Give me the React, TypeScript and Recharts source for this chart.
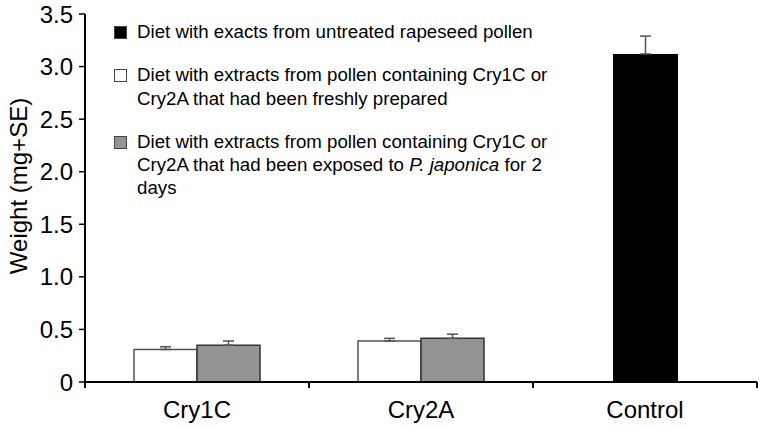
import React from "react";
import { BarChart, Bar, XAxis, YAxis, ErrorBar, Legend } from "recharts";

const categories = ["Cry1C", "Cry2A", "Control"];
const freshWeight = [0.31, 0.39, null];
const freshSE = [0.025, 0.025, null];
const exposedWeight = [0.35, 0.415, null];
const exposedSE = [0.04, 0.04, null];
const untreatedWeight = [null, null, 3.12];
const untreatedSE = [null, null, 0.17];
const yTicks = [0, 0.5, 1, 1.5, 2, 2.5, 3, 3.5];

const data = categories.map((name, i) => ({
  name,
  fresh: freshWeight[i],
  freshErr: freshSE[i] == null ? null : [0, freshSE[i]],
  exposed: exposedWeight[i],
  exposedErr: exposedSE[i] == null ? null : [0, exposedSE[i]],
  untreated: untreatedWeight[i],
  untreatedErr: untreatedSE[i] == null ? null : [0, untreatedSE[i]],
}));

const font = "'Liberation Sans', Arial, sans-serif";

const legendItems = [
  { fill: "#000000", lines: [<>Diet with exacts from untreated rapeseed pollen</>] },
  {
    fill: "#ffffff",
    lines: [
      <>Diet with extracts from pollen containing Cry1C or</>,
      <>Cry2A that had been freshly prepared</>,
    ],
  },
  {
    fill: "#939393",
    lines: [
      <>Diet with extracts from pollen containing Cry1C or</>,
      <>
        Cry2A that had been exposed to <i>P. japonica</i> for 2
      </>,
      <>days</>,
    ],
  },
];

function renderLegend() {
  return (
    <div style={{ fontFamily: font, fontSize: 18.7, color: "#000" }}>
      {legendItems.map((item, i) => (
        <div key={i} style={{ position: "relative", paddingLeft: 24, marginBottom: 20, lineHeight: "23.3px" }}>
          <span
            style={{
              position: "absolute",
              left: 1,
              top: 6,
              width: 11,
              height: 11,
              background: item.fill,
              border: "1px solid #444",
            }}
          />
          {item.lines.map((l, j) => (
            <div key={j} style={{ whiteSpace: "nowrap" }}>{l}</div>
          ))}
        </div>
      ))}
    </div>
  );
}

// category label plus tick marks on the band edges
function CategoryTick(props: any) {
  const { x, y, payload } = props;
  const half = payload?.offset ?? 0;
  return (
    <g>
      <line x1={x - half} x2={x - half} y1={y} y2={y + 6} stroke="#000" strokeWidth={2} />
      <line x1={x + half} x2={x + half} y1={y} y2={y + 6} stroke="#000" strokeWidth={2} />
      <text x={x} y={y + 36} textAnchor="middle" fill="#000" fontSize={24} fontFamily={font}>
        {payload.value}
      </text>
    </g>
  );
}

export default function App() {
  return (
    <div style={{ position: "absolute", left: 0, top: 0, background: "#fff" }}>
      <BarChart
        width={762}
        height={426}
        data={data}
        margin={{ top: 14, right: 5, bottom: 0, left: 0 }}
        barGap={0}
      >
        <XAxis
          xAxisId="a"
          dataKey="name"
          height={44}
          axisLine={{ stroke: "#000", strokeWidth: 2 }}
          tickLine={false}
          tickSize={0}
          tickMargin={0}
          tick={<CategoryTick />}
        />
        <XAxis xAxisId="b" dataKey="name" hide />
        <YAxis
          domain={[0, 3.5]}
          ticks={yTicks}
          width={85}
          axisLine={{ stroke: "#000", strokeWidth: 2 }}
          tickLine={{ stroke: "#000", strokeWidth: 1.5 }}
          tickSize={6}
          tickMargin={6}
          tickFormatter={(v) => (v === 0 ? "0" : v.toFixed(1))}
          tick={{ fill: "#000", fontSize: 24, fontFamily: font }}
          label={{
            value: "Weight (mg+SE)",
            angle: -90,
            position: "insideLeft",
            offset: 18,
            dy: -12,
            style: { textAnchor: "middle", fill: "#000", fontSize: 24, fontFamily: font },
          }}
        />
        <Legend
          layout="horizontal"
          verticalAlign="middle"
          align="center"
          content={renderLegend}
          wrapperStyle={{ top: 20, left: 113, width: 460 }}
        />
        <Bar
          xAxisId="a"
          dataKey="fresh"
          fill="#ffffff"
          stroke="#555"
          strokeWidth={1.5}
          barSize={63}
          isAnimationActive={false}
        >
          <ErrorBar dataKey="freshErr" direction="y" width={5.5} stroke="#555" strokeWidth={1.5} />
        </Bar>
        <Bar
          xAxisId="a"
          dataKey="exposed"
          fill="#939393"
          stroke="#333"
          strokeWidth={1.5}
          barSize={63}
          isAnimationActive={false}
        >
          <ErrorBar dataKey="exposedErr" direction="y" width={5.5} stroke="#555" strokeWidth={1.5} />
        </Bar>
        <Bar
          xAxisId="b"
          dataKey="untreated"
          fill="#000000"
          barSize={65}
          isAnimationActive={false}
        >
          <ErrorBar dataKey="untreatedErr" direction="y" width={5.5} stroke="#555" strokeWidth={1.5} />
        </Bar>
      </BarChart>
    </div>
  );
}
